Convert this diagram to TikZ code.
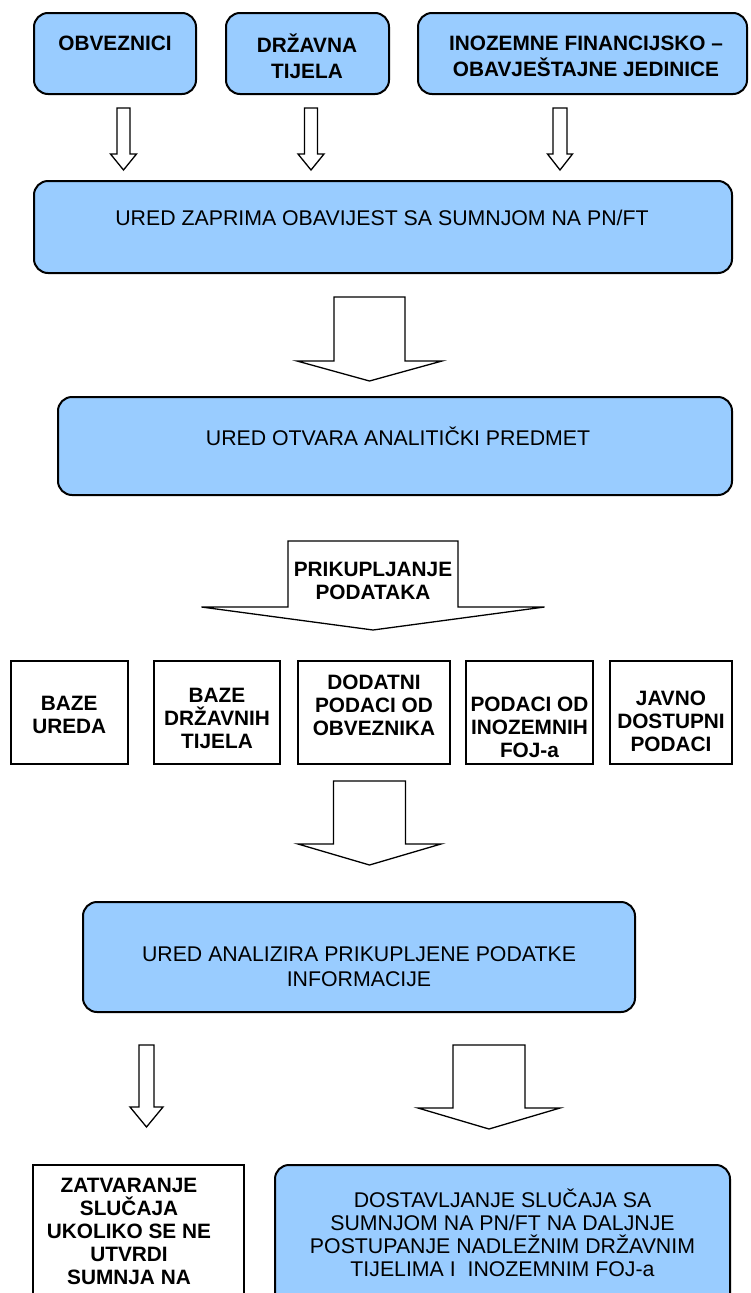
\documentclass[tikz,border=0pt]{standalone}
\usepackage{fontspec}
\setmainfont{Liberation Sans}
\usepackage{tikz}

\definecolor{boxblue}{RGB}{153,204,255}

% hollow block arrow pointing down: centre x, top y, half shaft, half head, head y, tip y
\newcommand{\blockarr}[6]{%
  \draw[line width=1.3pt,fill=white,line join=miter] (#1-#3,#2) -- (#1+#3,#2) -- (#1+#3,#5) -- (#1+#4,#5)
    -- (#1,#6) -- (#1-#4,#5) -- (#1-#3,#5) -- cycle;}

\begin{document}
\begin{tikzpicture}[x=1pt,y=-1pt]
\clip (0,0) rectangle (750,1293);
\fill[white] (0,0) rectangle (750,1293);

	\begin{scope}[every node/.style={draw=black,line width=2pt,fill=boxblue,rounded corners=14pt,inner sep=0pt}]
		\node[minimum width=162pt,minimum height=81pt] (obv) at (115,53.5) {};
		\node[minimum width=163pt,minimum height=81pt] (drz) at (307.5,53.5) {};
		\node[minimum width=329pt,minimum height=81pt] (ino) at (582.5,53.5) {};
		\node[minimum width=698pt,minimum height=92pt] (zap) at (383,227) {};
		\node[minimum width=674pt,minimum height=98pt] (otv) at (395,446) {};
		\node[minimum width=552pt,minimum height=110pt] (ana) at (359,957) {};
		\node[minimum width=455pt,minimum height=155pt] (dos) at (502.5,1242.5) {};
	\end{scope}

	\begin{scope}[every node/.style={draw=black,line width=2pt,fill=white,inner sep=0pt,minimum height=103pt}]
		\node[minimum width=117.5pt] (bu) at (69.25,712.5) {};
		\node[minimum width=126pt] (bdt) at (217,712.5) {};
		\node[minimum width=152pt] (dpo) at (374,712.5) {};
		\node[minimum width=127pt] (pif) at (529.5,712.5) {};
		\node[minimum width=122pt] (jdp) at (671,712.5) {};
		\node[minimum width=211pt,minimum height=155pt] (zat) at (138.5,1242.5) {};
	\end{scope}

	% block arrows
	\blockarr{123.5}{108}{6.5}{13}{154}{170}
	\blockarr{311}{108}{6.5}{13}{154}{170}
	\blockarr{560}{108}{7}{12.5}{154}{170}
	\blockarr{369.5}{297}{35.5}{72.5}{361}{381}
	\blockarr{373}{541}{85}{171.5}{607}{630}
	\blockarr{369.5}{781}{36}{71.5}{844}{865}
	\blockarr{146.5}{1045}{7.5}{16.5}{1107}{1127}
	\blockarr{489}{1045}{36}{71}{1108}{1129}

	\begin{scope}[every node/.style={align=center,inner sep=0pt,font=\fontsize{20.8}{23}\selectfont\bfseries}]
		\node (obvt) at (115,43) {OBVEZNICI};
		\node (drzt) at (307,56) {DRŽAVNA\\[3pt] TIJELA};
		\node (inot) at (586,56) {INOZEMNE FINANCIJSKO –\\[3pt] OBAVJEŠTAJNE JEDINICE};
		\node (prik) at (373,580.5) {PRIKUPLJANJE\\ PODATAKA};
		\node (but) at (69.25,714.5) {BAZE\\ UREDA};
		\node (bdtt) at (217,718) {BAZE\\ DRŽAVNIH\\ TIJELA};
		\node (dpot) at (374,705.5) {DODATNI\\ PODACI OD\\ OBVEZNIKA};
		\node (pift) at (529.5,727.5) {PODACI OD\\ INOZEMNIH\\ FOJ-a};
		\node (jdpt) at (671,721) {JAVNO\\ DOSTUPNI\\ PODACI};
		\node (zatt) at (129,1231.5) {ZATVARANJE\\ SLUČAJA\\ UKOLIKO SE NE\\ UTVRDI\\ SUMNJA NA};
	\end{scope}

	\begin{scope}[every node/.style={align=center,inner sep=0pt,font=\fontsize{21.3}{23}\selectfont}]
		\node (zapt) at (382,218) {URED ZAPRIMA OBAVIJEST SA SUMNJOM NA PN/FT};
		\node (otvt) at (398,436) {URED OTVARA ANALITIČKI PREDMET};
		\node (anat) at (359,966.5) {URED ANALIZIRA PRIKUPLJENE PODATKE\\[2pt] INFORMACIJE};
		\node (dost) at (502.5,1233) {DOSTAVLJANJE SLUČAJA SA\\ SUMNJOM NA PN/FT NA DALJNJE\\ POSTUPANJE NADLEŽNIM DRŽAVNIM\\ TIJELIMA I\ \ INOZEMNIM FOJ-a};
	\end{scope}
\end{tikzpicture}
\end{document}
